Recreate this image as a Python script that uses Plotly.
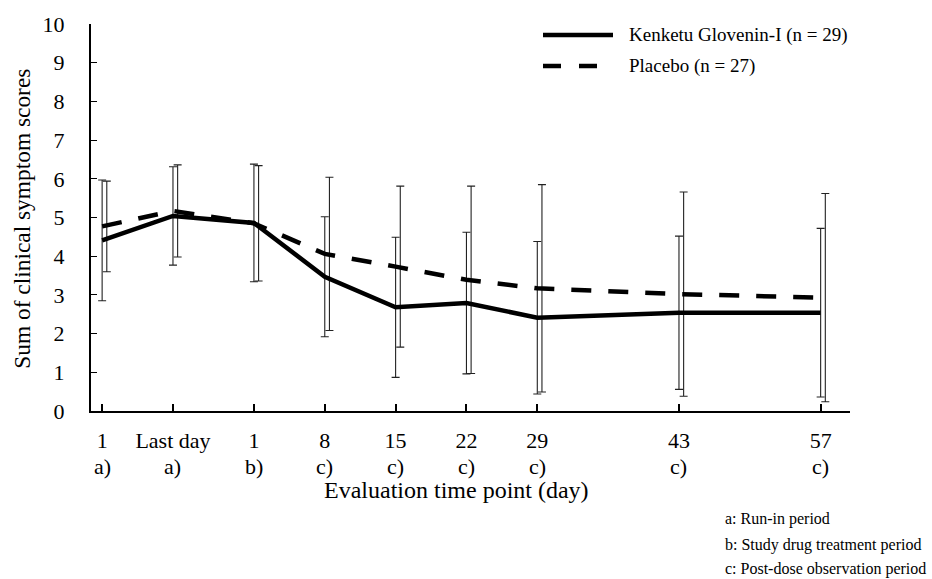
import plotly.graph_objects as go

# ---- data ----
x_pos = [-15, -8, 0, 7, 14, 21, 28, 42, 56]
tick_day = ["1", "Last day", "1", "8", "15", "22", "29", "43", "57"]
tick_period = ["a)", "a)", "b)", "c)", "c)", "c)", "c)", "c)", "c)"]

kenketu_mean = [4.41, 5.04, 4.86, 3.47, 2.68, 2.79, 2.41, 2.54, 2.54]
kenketu_sd = [1.56, 1.27, 1.52, 1.55, 1.81, 1.83, 1.97, 1.98, 2.18]
placebo_mean = [4.77, 5.17, 4.85, 4.06, 3.73, 3.39, 3.17, 3.02, 2.93]
placebo_sd = [1.17, 1.19, 1.49, 1.98, 2.08, 2.42, 2.68, 2.64, 2.69]

legend_names = ["Kenketu Glovenin-I (n = 29)", "Placebo (n = 27)"]
footnotes = ["a: Run-in period", "b: Study drug treatment period",
             "c: Post-dose observation period"]

FONT = "Liberation Serif, Times New Roman, serif"
W, H = 932, 579
L, R, T, B = 91, 82, 24, 167.5
PW, PH = W - L - R, H - T - B
OFFSET = 0.46  # horizontal offset of placebo error bars (x units)


def px_x(px):
    return (px - L) / PW


def px_y(py):
    return (H - B - py) / PH


fig = go.Figure()

# error bars
fig.add_trace(go.Scatter(
    x=x_pos, y=kenketu_mean, mode="markers", marker=dict(size=0.1, color="rgba(0,0,0,0)"),
    error_y=dict(type="data", array=kenketu_sd, visible=True, color="#222", thickness=1.1, width=4),
    showlegend=False, hoverinfo="skip"))
fig.add_trace(go.Scatter(
    x=[v + OFFSET for v in x_pos], y=placebo_mean, mode="markers",
    marker=dict(size=0.1, color="rgba(0,0,0,0)"),
    error_y=dict(type="data", array=placebo_sd, visible=True, color="#222", thickness=1.1, width=4),
    showlegend=False, hoverinfo="skip"))

# lines
fig.add_trace(go.Scatter(
    x=x_pos, y=placebo_mean, mode="lines", name=legend_names[1],
    line=dict(color="black", width=4.5, dash="20px,17px"), showlegend=False))
fig.add_trace(go.Scatter(
    x=x_pos, y=kenketu_mean, mode="lines", name=legend_names[0],
    line=dict(color="black", width=4.5), showlegend=False))

annotations = []
# second row of tick labels
for xv, t in zip(x_pos, tick_period):
    annotations.append(dict(x=xv, y=px_y(467), xref="x", yref="paper", text=t,
                            showarrow=False, font=dict(family=FONT, size=22, color="black"),
                            xanchor="center", yanchor="middle"))
# axis titles
annotations.append(dict(x=px_x(456), y=px_y(491), xref="paper", yref="paper",
                        text="Evaluation time point (day)", showarrow=False,
                        font=dict(family=FONT, size=24, color="black"),
                        xanchor="center", yanchor="middle"))
annotations.append(dict(x=px_x(22), y=px_y(219), xref="paper", yref="paper",
                        text="Sum of clinical symptom scores", showarrow=False, textangle=-90,
                        font=dict(family=FONT, size=23.4, color="black"),
                        xanchor="center", yanchor="middle"))
# legend text
for name, py in zip(legend_names, [35, 66]):
    annotations.append(dict(x=px_x(627), y=px_y(py), xref="paper", yref="paper",
                            text=name, showarrow=False,
                            font=dict(family=FONT, size=19, color="black"),
                            xanchor="left", yanchor="middle"))
# footnotes
for note, py in zip(footnotes, [520, 546, 570]):
    annotations.append(dict(x=px_x(723), y=px_y(py), xref="paper", yref="paper",
                            text=note, showarrow=False,
                            font=dict(family=FONT, size=16, color="black"),
                            xanchor="left", yanchor="middle"))

shapes = [
    dict(type="line", xref="paper", yref="paper", x0=px_x(543), x1=px_x(613),
         y0=px_y(35), y1=px_y(35), line=dict(color="black", width=4.5)),
    dict(type="line", xref="paper", yref="paper", x0=px_x(543), x1=px_x(598),
         y0=px_y(66), y1=px_y(66), line=dict(color="black", width=4.5, dash="18px,18px")),
]

fig.update_layout(
    width=W, height=H,
    margin=dict(l=L, r=R, t=T, b=B, pad=0),
    paper_bgcolor="white", plot_bgcolor="white",
    font=dict(family=FONT, size=22, color="black"),
    annotations=annotations, shapes=shapes, showlegend=False,
    xaxis=dict(range=[-16.1, 58.9], tickmode="array", tickvals=x_pos, ticktext=tick_day,
               showgrid=False, zeroline=False, showline=True, linecolor="black", linewidth=2,
               ticks="inside", ticklen=7, tickwidth=2, tickcolor="black",
               tickfont=dict(family=FONT, size=22, color="black"), ticklabelstandoff=9),
    yaxis=dict(range=[0, 10], tickmode="linear", tick0=0, dtick=1,
               showgrid=False, zeroline=False, showline=True, linecolor="black", linewidth=2,
               ticks="inside", ticklen=6, tickwidth=1.2, tickcolor="black",
               tickfont=dict(family=FONT, size=22, color="black"), ticklabelstandoff=20),
)

fig.write_html("out.html", config={"displayModeBar": False},
               post_script="document.body.style.margin='0';")
